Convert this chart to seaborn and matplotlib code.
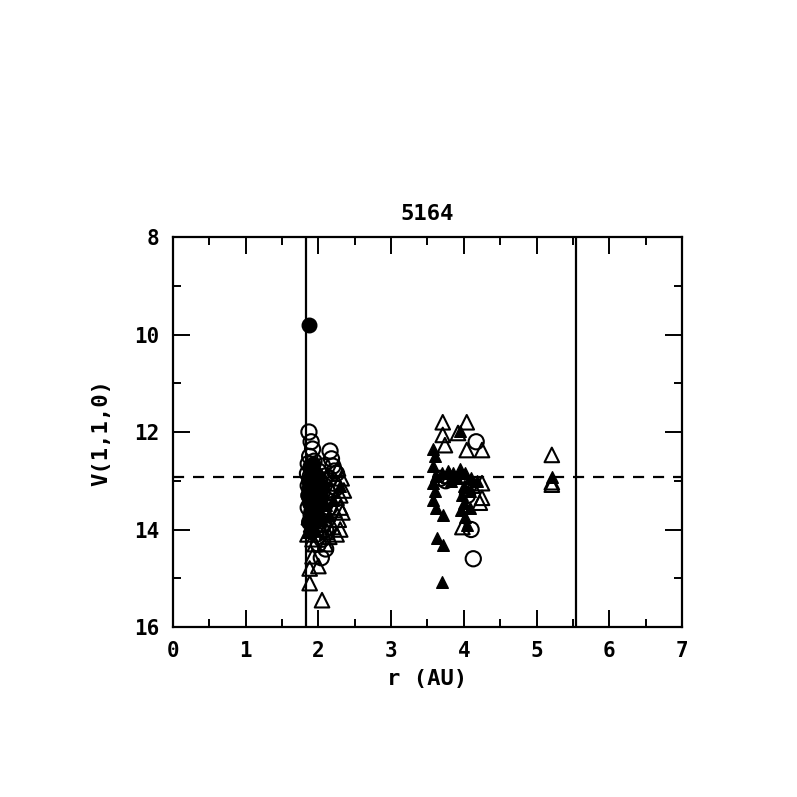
import numpy as np
import pandas as pd
import matplotlib
matplotlib.use("Agg")
import matplotlib.pyplot as plt
import seaborn as sns
from matplotlib.ticker import MultipleLocator

# ---- data ----
open_circ_r = [1.87, 1.90, 1.92, 1.88, 1.86, 1.90, 1.85, 1.93, 1.88, 1.86, 1.91, 1.95, 1.87, 1.92,
               1.89, 1.96, 1.86, 1.93, 1.90, 1.98, 1.88, 1.95, 2.00, 2.02, 2.05, 2.00, 2.04, 2.08,
               2.10, 2.16, 2.18, 2.20, 2.22, 2.15, 2.12, 2.25, 2.10, 2.05, 2.10, 2.04, 1.97, 2.00,
               1.94, 1.98, 2.03, 1.89, 1.92, 2.06, 2.13, 2.20, 2.24, 1.99, 2.07, 2.15,
               4.17, 3.68, 3.75, 4.10, 4.13, 4.05]
open_circ_v = [12.00, 12.20, 12.35, 12.50, 12.65, 12.75, 12.85, 12.90, 13.00, 13.10, 13.15, 13.20,
               13.30, 13.35, 13.45, 13.50, 13.55, 13.60, 13.70, 13.75, 13.85, 13.95, 12.80, 13.00,
               13.25, 13.45, 13.60, 13.10, 12.90, 12.39, 12.55, 12.70, 12.80, 12.95, 13.20, 12.85,
               14.00, 14.20, 14.40, 14.58, 14.10, 14.30, 12.60, 12.95, 13.35, 12.90, 13.05, 12.70,
               13.40, 13.05, 13.15, 13.80, 13.90, 13.55,
               12.20, 12.95, 13.00, 14.00, 14.60, 13.30]

open_tri_r = [1.88, 2.05, 1.88, 1.92, 2.00, 1.85, 1.90, 2.30, 2.30, 2.28, 2.30, 2.25, 2.20, 2.15,
              2.10, 2.35, 2.32, 2.27, 2.22, 2.05, 1.95, 1.87, 1.92, 2.00, 2.25, 2.18, 2.33, 2.12,
              3.71, 4.04, 3.71, 3.92, 3.74, 4.04, 4.25, 4.25, 4.25, 4.22, 4.12, 3.98, 4.05, 3.80,
              5.21, 5.21, 5.21]
open_tri_v = [15.10, 15.45, 14.80, 14.55, 14.75, 14.10, 13.90, 13.30, 13.55, 13.80, 14.00, 14.10,
              13.95, 14.15, 14.30, 13.20, 12.95, 12.75, 13.60, 14.00, 14.30, 13.75, 14.20, 13.90,
              13.35, 13.20, 13.65, 14.05,
              11.80, 11.80, 12.06, 12.02, 12.27, 12.37, 12.37, 13.05, 13.35, 13.45, 13.10, 13.95,
              13.10, 12.90,
              12.47, 13.03, 13.08]

fill_circ_r = [1.87, 1.88, 1.90, 1.92, 1.95, 1.90, 2.00, 1.86, 1.98, 1.89, 1.93, 1.97, 1.88,
               1.91, 1.95, 2.02, 1.87, 1.94, 1.99, 1.90, 2.03, 1.96, 1.89, 1.92]
fill_circ_v = [9.80, 13.00, 13.20, 12.80, 13.40, 13.60, 13.10, 13.30, 12.90, 12.70, 13.00, 13.25,
               13.45, 13.70, 12.85, 13.30, 13.15, 13.55, 13.50, 12.95, 13.10, 13.75, 13.85, 12.65]

fill_tri_r = [1.90, 1.95, 2.05, 2.10, 2.15, 2.20, 2.30, 1.86,
              3.70, 3.63, 3.72, 3.58, 3.60, 3.57, 3.62, 3.58, 3.60, 3.57, 3.62, 3.72, 3.70, 3.78,
              3.85, 3.95, 4.02, 4.10, 4.18, 3.90, 3.82, 4.00, 3.98, 4.00, 3.96, 4.02, 4.05, 4.08,
              3.95, 4.08,
              5.21]
fill_tri_v = [13.80, 14.00, 13.80, 13.50, 13.70, 13.40, 13.10, 14.05,
              15.07, 14.18, 14.32, 12.35, 12.50, 12.70, 12.90, 13.05, 13.20, 13.40, 13.55, 13.70,
              12.85, 12.80, 12.85, 12.75, 12.85, 12.95, 13.00, 12.95, 13.00, 13.10, 13.30, 13.45,
              13.60, 13.75, 13.90, 13.20, 11.98, 13.55,
              12.93]

vlines_r = [1.83, 5.54]
hline_v = 12.92
title = "5164"

# ---- plotting ----
sns.set_style("ticks")
plt.rcParams['font.family'] = ['DejaVu Sans Mono', 'DejaVu Sans']
plt.rcParams['text.color'] = 'black'
plt.rcParams['axes.labelcolor'] = 'black'

fig = plt.figure(figsize=(7.97, 7.97), dpi=100)
ax = fig.add_axes([0.217, 0.2133, 0.6387, 0.4893])

for r in vlines_r:
    ax.axvline(r, color='black', lw=1.6, zorder=1)
ax.axhline(hline_v, color='black', lw=1.6, ls=(0, (5, 4)), zorder=1)

sns.scatterplot(x=open_circ_r, y=open_circ_v, marker='o', s=120, facecolors='none',
                edgecolor='black', linewidth=1.5, ax=ax, zorder=3)
sns.scatterplot(x=open_tri_r, y=open_tri_v, marker='^', s=110, facecolors='none',
                edgecolor='black', linewidth=1.5, ax=ax, zorder=3)
sns.scatterplot(x=fill_circ_r, y=fill_circ_v, marker='o', s=110, color='black',
                edgecolor='black', linewidth=1.0, ax=ax, zorder=4)
sns.scatterplot(x=fill_tri_r, y=fill_tri_v, marker='^', s=70, color='black',
                edgecolor='black', linewidth=1.0, ax=ax, zorder=4)

ax.set_xlim(0, 7)
ax.set_ylim(16, 8)
ax.xaxis.set_major_locator(MultipleLocator(1))
ax.xaxis.set_minor_locator(MultipleLocator(0.5))
ax.yaxis.set_major_locator(MultipleLocator(2))
ax.yaxis.set_minor_locator(MultipleLocator(1))
ax.tick_params(which='both', direction='in', top=True, right=True, width=1.4, colors='black')
ax.tick_params(which='major', length=12, labelsize=15, pad=10)
ax.tick_params(which='minor', length=6)
for lab in ax.get_xticklabels() + ax.get_yticklabels():
    lab.set_fontweight('bold')
    lab.set_color('black')
for sp in ax.spines.values():
    sp.set_linewidth(1.6)
    sp.set_color('black')

ax.set_xlabel("r (AU)", fontsize=16, fontweight='bold', labelpad=6, color='black')
ax.set_ylabel("V(1,1,0)", fontsize=16, fontweight='bold', labelpad=16, color='black')
ax.set_title(title, fontsize=16, fontweight='bold', pad=12, color='black')

fig.savefig("out.png", dpi=100)
